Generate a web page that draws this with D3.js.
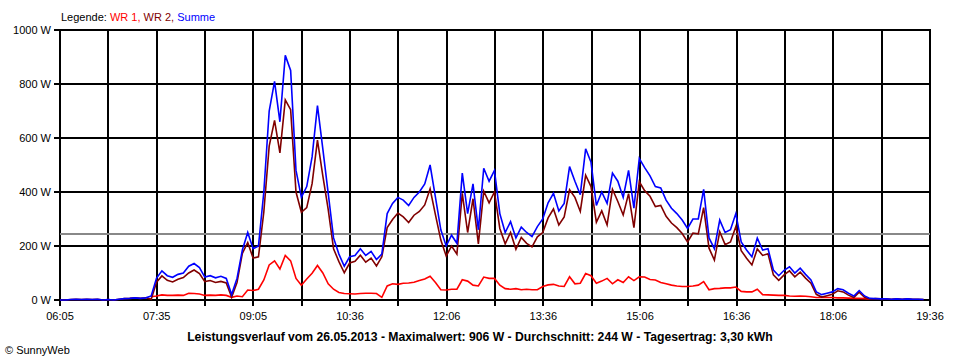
<!DOCTYPE html>
<html><head><meta charset="utf-8">
<script src="https://cdn.jsdelivr.net/npm/d3@7"></script>
<style>
html,body{margin:0;padding:0;background:#fff;}
svg{display:block;}
text{font-family:"Liberation Sans",Arial,sans-serif;}
</style></head>
<body>
<svg id="c" width="960" height="360"></svg>
<script>
const tickLabels = ["06:05","07:35","09:05","10:36","12:06","13:36","15:06","16:36","18:06","19:36"];
const yTicks = [0,200,400,600,800,1000];
const startMinute = 365;   // 06:05
const endMinute = 1176;    // 19:36
const stepMinutes = 5;
const averageW = 244;

const wr1 = [null,null,null,null,null,null,null,null,null,null,null,null,null,null,null,null,null,
 12,15,19,17,17,18,17,25,24,22,17,18,17,19,17,10,15,
 12,37,35,40,74,130,145,115,165,145,80,55,78,99,128,100,60,
 40,28,24,23,22,24,25,25,24,10,52,60,58,62,63,66,72,
 78,88,65,38,37,40,40,75,70,55,52,85,80,80,55,42,40,
 42,38,40,38,38,50,56,58,52,50,86,60,62,98,90,62,70,
 80,60,75,65,86,72,86,85,76,74,65,60,55,52,50,50,52,
 55,68,38,42,43,45,45,48,32,30,30,40,20,19,18,17,17,
 15,14,15,14,12,9,9,9,9,8,8,7,6,6,5,3,
 null,null,null,null,null,null,null,null,null,null];

const wr2 = [0,0,2,3,2,3,2,3,0,2,0,3,5,6,8,6,8,
 3,66,89,73,67,77,83,100,111,98,68,72,65,69,63,10,65,
 173,213,155,160,326,570,665,545,741,705,400,325,342,431,592,460,336,
 190,142,101,137,143,166,140,155,126,160,268,298,322,308,287,314,328,
 352,412,315,222,163,200,170,395,250,375,208,403,360,400,265,208,250,
 188,232,210,197,234,250,304,337,278,308,408,380,328,462,420,288,330,
 278,410,365,315,394,268,438,405,384,346,350,310,285,268,246,215,248,
 245,342,192,148,253,205,215,272,183,155,130,189,165,171,93,73,93,
 108,86,103,81,62,21,11,16,21,34,30,18,9,29,10,3,
 5,4,4,3,4,3,4,3,3,2];

const summe = [0,0,2,3,2,3,2,3,0,2,0,3,5,6,8,6,8,
 15,81,108,90,84,95,100,125,135,120,85,90,82,88,80,20,80,
 185,250,190,200,400,700,810,660,906,850,480,380,420,530,720,560,396,
 230,170,125,160,165,190,165,180,150,170,320,358,380,370,350,380,400,
 430,500,380,260,200,240,210,470,320,430,260,488,440,480,320,250,290,
 230,270,250,235,272,300,360,395,330,358,494,440,390,560,510,350,400,
 358,470,440,380,480,340,524,490,460,420,415,370,340,320,296,265,300,
 300,410,230,190,296,250,260,320,215,185,160,229,185,190,111,90,110,
 123,100,118,95,74,30,20,25,30,42,38,25,15,35,15,6,
 5,4,4,3,4,3,4,3,3,2];

const svg = d3.select("#c");
const L = 60, R = 930, T = 30, B = 300;

const x = d3.scaleLinear().domain([startMinute, endMinute]).range([L, R]);
const y = d3.scaleLinear().domain([0, 1000]).range([B, T]);
const xLab = d3.scalePoint().domain(tickLabels).range([L, R]);
const gridIdx = d3.range((tickLabels.length - 1) * 2 + 1);
const xGrid = d3.scaleLinear().domain([0, gridIdx.length - 1]).range([L, R]);

// horizontal grid with y tick labels
const gy = svg.append("g").attr("class","ygrid");
gy.selectAll("line").data(yTicks).join("line")
  .attr("x1", L - 6).attr("x2", R + 1)
  .attr("y1", d => Math.round(y(d))).attr("y2", d => Math.round(y(d)))
  .attr("stroke", "#000").attr("stroke-width", 2).attr("shape-rendering", "crispEdges");
gy.selectAll("text").data(yTicks).join("text")
  .attr("x", 51).attr("y", d => y(d) + 4)
  .attr("text-anchor", "end").attr("font-size", 11).attr("fill", "#000")
  .text(d => d + " W");

// vertical grid
svg.append("g").selectAll("line").data(gridIdx).join("line")
  .attr("x1", d => Math.round(xGrid(d))).attr("x2", d => Math.round(xGrid(d)))
  .attr("y1", T - 1).attr("y2", B + 6)
  .attr("stroke", "#000").attr("stroke-width", 2).attr("shape-rendering", "crispEdges");

// x labels
svg.append("g").selectAll("text").data(tickLabels).join("text")
  .attr("x", d => xLab(d)).attr("y", 320)
  .attr("text-anchor", "middle").attr("font-size", 11).attr("fill", "#000")
  .text(d => d);

// average line
svg.append("line")
  .attr("x1", L).attr("x2", R)
  .attr("y1", Math.round(y(averageW))).attr("y2", Math.round(y(averageW)))
  .attr("stroke", "#888").attr("stroke-width", 2).attr("shape-rendering", "crispEdges");

const times = wr2.map((_, i) => startMinute + i * stepMinutes);
const line = d3.line()
  .defined(d => d[1] !== null)
  .x(d => x(d[0])).y(d => y(d[1]));

const series = [
  {name: "WR 1", values: wr1, color: "#ff0000"},
  {name: "WR 2", values: wr2, color: "#800000"},
  {name: "Summe", values: summe, color: "#0000ff"}
];
svg.append("g").selectAll("path").data(series).join("path")
  .attr("d", s => line(s.values.map((v, i) => [times[i], v])))
  .attr("fill", "none").attr("stroke", s => s.color).attr("stroke-width", 1.6)
  .attr("stroke-linejoin", "miter");

// legend
const leg = svg.append("text").attr("x", 61).attr("y", 21).attr("font-size", 11);
leg.append("tspan").attr("fill", "#000").text("Legende: ");
series.forEach((s, i) => {
  leg.append("tspan").attr("fill", s.color).text(s.name + (i < series.length - 1 ? ", " : ""));
});

// title
svg.append("text").attr("x", 480).attr("y", 341).attr("text-anchor", "middle")
  .attr("font-size", 12.2).attr("font-weight", "bold").attr("fill", "#000")
  .text("Leistungsverlauf vom 26.05.2013 - Maximalwert: 906 W - Durchschnitt: 244 W - Tagesertrag: 3,30 kWh");

svg.append("text").attr("x", 5).attr("y", 354).attr("font-size", 11).attr("fill", "#000")
  .text("© SunnyWeb");
</script>
</body></html>
